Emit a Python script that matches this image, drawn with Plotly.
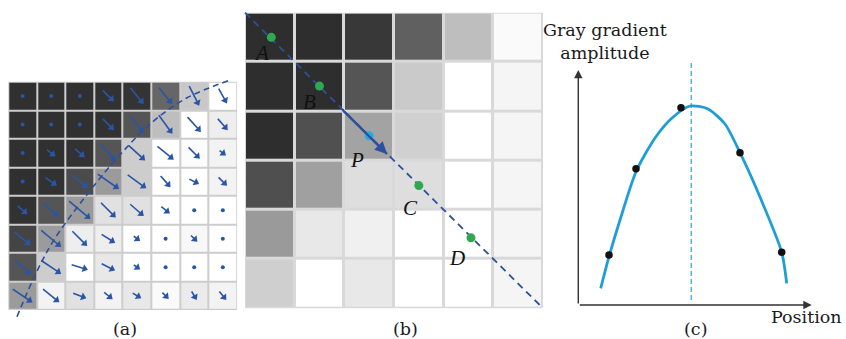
import plotly.graph_objects as go
import numpy as np

W, H = 846, 339

# ---------------- data ----------------
# Panel (a): 8x8 gray levels (0 black .. 255 white), row 0 = top
gray_a = [
    [48, 48, 48, 50, 52, 102, 200, 255],
    [48, 48, 48, 50, 85, 190, 255, 238],
    [48, 48, 50, 85, 205, 255, 252, 243],
    [48, 50, 75, 155, 205, 255, 255, 243],
    [50, 85, 155, 225, 225, 255, 255, 255],
    [68, 155, 238, 238, 255, 255, 248, 255],
    [85, 205, 255, 232, 255, 255, 255, 255],
    [155, 243, 225, 243, 232, 250, 235, 243],
]
# gradient magnitude (0 = dot) and direction (degrees below horizontal)
grad_mag = [
    [0, 0, 0, 16, 21, 21, 22, 17],
    [0, 0, 0, 16, 21, 23, 20, 15],
    [0, 11, 13, 22, 22, 21, 16, 8],
    [0, 14, 21, 26, 23, 15, 11, 12],
    [13, 20, 28, 21, 18, 11, 0, 0],
    [21, 26, 21, 16, 8, 0, 9, 0],
    [22, 24, 17, 15, 8, 0, 0, 0],
    [24, 21, 14, 11, 10, 9, 10, 11],
]
grad_ang = [
    [45, 45, 45, 45, 51, 51, 63, 61],
    [45, 45, 45, 45, 51, 54, 48, 49],
    [45, 39, 40, 48, 42, 39, 45, 37],
    [45, 35, 39, 35, 36, 49, 27, 45],
    [40, 42, 40, 45, 41, 39, 45, 45],
    [39, 40, 45, 32, 37, 45, 45, 45],
    [42, 34, 17, 27, 37, 45, 45, 45],
    [34, 39, 20, 39, 31, 45, 59, 51],
]
edge_a_x = [-0.196, 0.493, 1.133, 2.241, 3.406, 4.570, 5.738, 7.192]
edge_a_y = [7.734, 6.157, 4.987, 3.470, 2.058, 0.888, 0.071, -0.535]

# Panel (b): 6x6 gray levels
gray_b = [
    [46, 46, 56, 96, 190, 250],
    [46, 46, 85, 202, 255, 245],
    [46, 80, 163, 208, 255, 245],
    [79, 160, 222, 222, 255, 245],
    [154, 232, 240, 255, 255, 245],
    [207, 255, 232, 255, 255, 245],
]
line_b_x = [-0.5, 5.47]
line_b_y = [-0.5, 5.47]
pt_labels = ["A", "B", "P", "C", "D"]
pt_x = [0.03, 1.0, 2.0, 3.0, 4.05]
pt_y = [0.0, 0.99, 2.0, 3.01, 4.07]
arrow_b = [1.46, 1.47, 2.36, 2.37]  # x0, y0, x1, y1

# Panel (c): fitted curve and sample points
curve_x = [0.96, 1.315, 1.787, 2.472, 3.286, 4.015, 4.786, 5.557, 6.285, 6.928, 7.785, 8.715, 8.929]
curve_y = [0.686, 1.985, 3.494, 5.479, 6.864, 7.686, 8.179, 8.056, 7.439, 6.26, 4.439, 2.166, 0.892]
samp_x = [1.315, 2.472, 4.40, 6.928, 8.715]
samp_y = [2.055, 5.60, 8.11, 6.26, 2.166]
peak_x = 4.84

# ---------------- colours ----------------
BLUE = "#2a55a6"
DASH_BLUE = "#2d4f9e"
GREEN = "#2fa84f"
CYAN = "#2aa9e0"
CURVE = "#1d9fd6"
VDASH = "#4dbbe3"
SERIF = "DejaVu Serif"

CELL_A = 28.6  # pixels per cell in panel (a)


def px_dom(a, b, total):
    return [a / total, b / total]


fig = go.Figure()
graysc = [[0, "rgb(0,0,0)"], [1, "rgb(255,255,255)"]]
annotations = []

# ---- Panel (a)
fig.add_shape(type="rect", x0=-0.5, x1=7.5, y0=-0.5, y1=7.5, xref="x", yref="y",
              fillcolor="#cdcdcd", line=dict(width=0), layer="below")
fig.add_trace(go.Heatmap(z=gray_a, x=list(range(8)), y=list(range(8)), colorscale=graysc,
                         zmin=0, zmax=255, showscale=False, xgap=2, ygap=2,
                         hoverinfo="skip", xaxis="x", yaxis="y"))

seg_x, seg_y, head_x, head_y, head_ang, dot_x, dot_y = [], [], [], [], [], [], []
HEAD = 7.0  # marker size (px)
for r in range(8):
    for c in range(8):
        m = grad_mag[r][c]
        if m == 0:
            dot_x.append(c)
            dot_y.append(r)
            continue
        a = np.deg2rad(grad_ang[r][c])
        ux, uy = np.cos(a), np.sin(a)
        L = m / CELL_A
        x0, y0 = c - ux * L / 2, r - uy * L / 2
        x1, y1 = c + ux * L / 2, r + uy * L / 2
        back = (HEAD / 2) / CELL_A
        hx, hy = x1 - ux * back, y1 - uy * back
        seg_x += [x0, hx, None]
        seg_y += [y0, hy, None]
        head_x.append(hx)
        head_y.append(hy)
        head_ang.append(90 + grad_ang[r][c])

fig.add_trace(go.Scatter(x=seg_x, y=seg_y, mode="lines", line=dict(color=BLUE, width=1.6),
                         hoverinfo="skip", xaxis="x", yaxis="y"))
fig.add_trace(go.Scatter(x=head_x, y=head_y, mode="markers",
                         marker=dict(symbol="triangle-up", size=HEAD, color=BLUE, angle=head_ang,
                                     line=dict(width=0)),
                         hoverinfo="skip", xaxis="x", yaxis="y"))
fig.add_trace(go.Scatter(x=dot_x, y=dot_y, mode="markers", marker=dict(color=BLUE, size=4),
                         hoverinfo="skip", xaxis="x", yaxis="y"))
fig.add_trace(go.Scatter(x=edge_a_x, y=edge_a_y, mode="lines",
                         line=dict(color=DASH_BLUE, width=1.6, dash="6px,4px", shape="spline"),
                         hoverinfo="skip", xaxis="x", yaxis="y"))

# ---- Panel (b)
fig.add_shape(type="rect", x0=-0.5, x1=5.5, y0=-0.5, y1=5.5, xref="x2", yref="y2",
              fillcolor="#d9d9d9", line=dict(width=0), layer="below")
fig.add_trace(go.Heatmap(z=gray_b, x=list(range(6)), y=list(range(6)), colorscale=graysc,
                         zmin=0, zmax=255, showscale=False, xgap=3, ygap=3,
                         hoverinfo="skip", xaxis="x2", yaxis="y2"))
fig.add_trace(go.Scatter(x=line_b_x, y=line_b_y, mode="lines",
                         line=dict(color=DASH_BLUE, width=1.8, dash="7px,5px"),
                         hoverinfo="skip", xaxis="x2", yaxis="y2"))
fig.add_trace(go.Scatter(x=[arrow_b[0], arrow_b[2]], y=[arrow_b[1], arrow_b[3]], mode="lines",
                         line=dict(color=DASH_BLUE, width=2.2), hoverinfo="skip", xaxis="x2", yaxis="y2"))
annotations.append(dict(x=arrow_b[2], y=arrow_b[3], ax=arrow_b[0], ay=arrow_b[1],
                        xref="x2", yref="y2", axref="x2", ayref="y2", text="", showarrow=True,
                        arrowhead=2, arrowsize=1.1, arrowwidth=2.2, arrowcolor=DASH_BLUE, standoff=0))
pt_col = [GREEN, GREEN, CYAN, GREEN, GREEN]
fig.add_trace(go.Scatter(x=pt_x, y=pt_y, mode="markers", marker=dict(color=pt_col, size=9),
                         hoverinfo="skip", xaxis="x2", yaxis="y2"))
lab_off = [(-0.2, 0.32), (-0.2, 0.32), (-0.24, 0.49), (-0.17, 0.45), (-0.29, 0.41)]
for lab, x, y, (ox, oy) in zip(pt_labels, pt_x, pt_y, lab_off):
    annotations.append(dict(x=x + ox, y=y + oy, xref="x2", yref="y2", text=f"<i>{lab}</i>",
                            showarrow=False, font=dict(family="Liberation Serif", size=21, color="#111")))

# ---- Panel (c)
fig.add_trace(go.Scatter(x=[peak_x, peak_x], y=[0.205, 10], mode="lines",
                         line=dict(color=VDASH, width=1.5, dash="5px,3px"), hoverinfo="skip",
                         xaxis="x3", yaxis="y3"))
fig.add_trace(go.Scatter(x=curve_x, y=curve_y, mode="lines",
                         line=dict(color=CURVE, width=2.8, shape="spline", smoothing=0.7),
                         hoverinfo="skip", xaxis="x3", yaxis="y3"))
fig.add_trace(go.Scatter(x=samp_x, y=samp_y, mode="markers", marker=dict(color="#111", size=7.5),
                         hoverinfo="skip", xaxis="x3", yaxis="y3"))
annotations.append(dict(x=0, y=9.66, ax=0, ay=0, xref="x3", yref="y3", axref="x3", ayref="y3",
                        text="", showarrow=True, arrowhead=2, arrowsize=1.2, arrowwidth=1.4,
                        arrowcolor="#333", standoff=0))
annotations.append(dict(x=10, y=0, ax=0, ay=0, xref="x3", yref="y3", axref="x3", ayref="y3",
                        text="", showarrow=True, arrowhead=2, arrowsize=1.2, arrowwidth=1.4,
                        arrowcolor="#333", standoff=0))


# ---- Text labels
def pax(px):
    return px / W


def pay(py):
    return 1 - py / H


txt_font = dict(family=SERIF, size=17.5, color="#1a1a1a")
annotations += [
    dict(x=pax(605), y=pay(41.7), xref="paper", yref="paper", text="Gray gradient<br>amplitude",
         showarrow=False, font=txt_font, align="center", xanchor="center", yanchor="middle"),
    dict(x=pax(806), y=pay(317), xref="paper", yref="paper", text="Position",
         showarrow=False, font=txt_font, xanchor="center", yanchor="middle"),
    dict(x=pax(125), y=pay(329), xref="paper", yref="paper", text="(a)",
         showarrow=False, font=txt_font, xanchor="center", yanchor="middle"),
    dict(x=pax(405), y=pay(329), xref="paper", yref="paper", text="(b)",
         showarrow=False, font=txt_font, xanchor="center", yanchor="middle"),
    dict(x=pax(695), y=pay(329), xref="paper", yref="paper", text="(c)",
         showarrow=False, font=txt_font, xanchor="center", yanchor="middle"),
]

hidden = dict(showgrid=False, zeroline=False, showticklabels=False, ticks="", showline=False)

fig.update_layout(
    width=W, height=H, margin=dict(l=0, r=0, t=0, b=0),
    paper_bgcolor="white", plot_bgcolor="white", showlegend=False,
    xaxis=dict(domain=px_dom(0, 240, W), range=[-0.79, 7.601], anchor="y", **hidden),
    yaxis=dict(domain=[1 - 322 / H, 1 - 72 / H], range=[7.92, -0.84], anchor="x", **hidden),
    xaxis2=dict(domain=px_dom(242, 546, W), range=[-0.56, 5.56], anchor="y2", **hidden),
    yaxis2=dict(domain=[1 - 312 / H, 1 - 8 / H], range=[5.575, -0.595], anchor="x2", **hidden),
    xaxis3=dict(domain=px_dom(578.3, 811.7, W), range=[0, 10], anchor="y3", **hidden),
    yaxis3=dict(domain=[1 - 305 / H, 1 - 61.7 / H], range=[0, 10], anchor="x3", **hidden),
    annotations=annotations,
)

fig.write_html("out.html")
